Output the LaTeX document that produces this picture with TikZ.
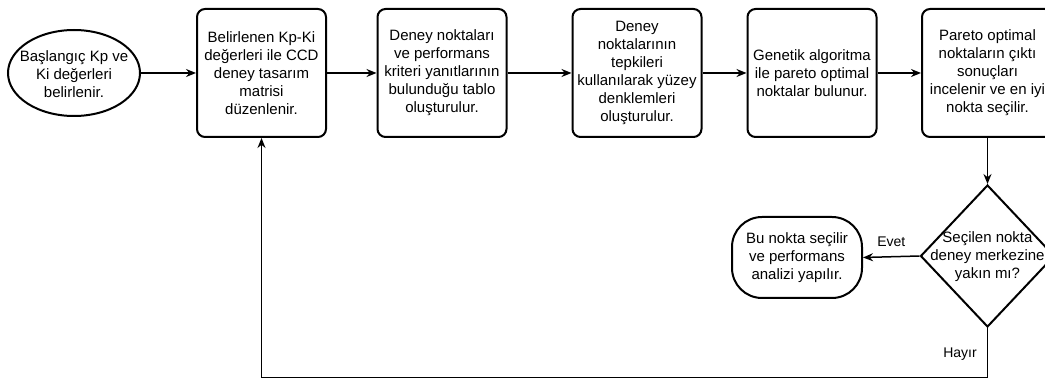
\documentclass[tikz,border=0pt]{standalone}
\usepackage{fontspec}
\setmainfont{Liberation Sans}
\usetikzlibrary{shapes.geometric,arrows.meta}
\begin{document}
\begin{tikzpicture}[x=1pt,y=-1pt,
  every node/.style={font=\fontsize{15pt}{18pt}\selectfont, align=center, inner sep=0pt},
  stepbox/.style={draw, line width=2pt, rounded corners=8pt, minimum width=129pt, minimum height=128pt},
  startoval/.style={draw, line width=2pt, ellipse, minimum width=132pt, minimum height=86pt},
  endoval/.style={draw, line width=2pt, rounded corners=30pt, minimum width=130pt, minimum height=81pt},
  decision/.style={draw, line width=2pt, diamond, minimum width=134pt, minimum height=142pt},
  flow/.style={line width=1.5pt, -{Stealth[length=10pt,width=8pt]}},
  lbl/.style={font=\fontsize{14pt}{17pt}\selectfont}
]
\useasboundingbox (0,0) rectangle (1045,379);

% start
\node[startoval] (start) at (74,73) {};
\node (starttext) at (74,74) {Başlangıç Kp ve\\Ki değerleri\\belirlenir.};

% process steps
\node[stepbox] (b1) at (261.5,73) {Belirlenen Kp-Ki\\değerleri ile CCD\\deney tasarım\\matrisi\\düzenlenir.};
\node[stepbox] (b2) at (442,73) {Deney noktaları\\ve performans\\kriteri yanıtlarının\\bulunduğu tablo\\oluşturulur.};
\node[stepbox] (b3) at (637,73) {Deney\\noktalarının\\tepkileri\\kullanılarak yüzey\\denklemleri\\oluşturulur.};
\node[stepbox] (b4) at (812,73) {Genetik algoritma\\ile pareto optimal\\noktalar bulunur.};
\node[stepbox, minimum width=131pt] (b5) at (987.5,73) {Pareto optimal\\noktaların çıktı\\sonuçları\\incelenir ve en iyi\\nokta seçilir.};

% decision
\node[decision] (dec) at (987.5,256) {};
\node (dectext) at (987.5,257) {Seçilen nokta\\deney merkezine\\yakın mı?};

% end
\node[endoval] (end) at (797,257.5) {Bu nokta seçilir\\ve performans\\analizi yapılır.};

% connectors
\draw[flow] (start.east) -- (b1.west);
\draw[flow] (b1.east) -- (b2.west);
\draw[flow] (b2.east) -- (b3.west);
\draw[flow] (b3.east) -- (b4.west);
\draw[flow] (b4.east) -- (b5.west);
\draw[flow] (b5.south) -- (dec.north);
\draw[flow] (dec.west) -- node[lbl, above=9pt] (evet) {Evet} (end.east);
\coordinate (c1) at (987.5,377.5);
\coordinate (c2) at (261.5,377.5);
\draw[flow] (dec.south) -- node[lbl, left=10pt, pos=0.52] (hayir) {Hayır} (c1) -- (c2) -- (b1.south);
\end{tikzpicture}
\end{document}
